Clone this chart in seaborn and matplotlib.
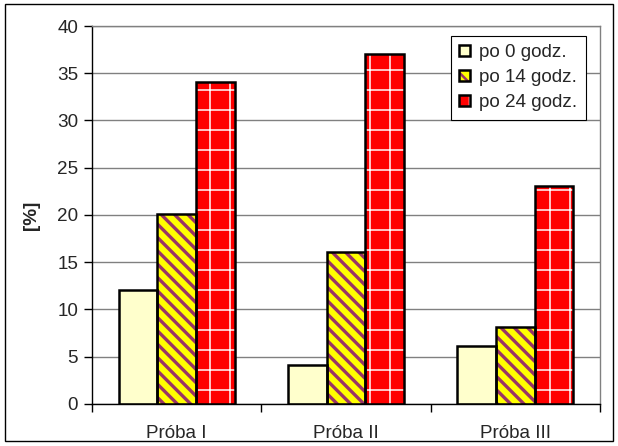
import pandas as pd
import matplotlib
matplotlib.use("Agg")
import matplotlib.pyplot as plt
import seaborn as sns
from matplotlib.patches import Patch, Rectangle

# data
samples = ['Próba I', 'Próba II', 'Próba III']
series = ['po 0 godz.', 'po 14 godz.', 'po 24 godz.']
values_0h = [12.1, 4.1, 6.1]
values_14h = [20.1, 16.1, 8.1]
values_24h = [34.1, 37.0, 23.1]

face_colors = ['#FFFFCC', '#FFFF00', '#FF0000']
hatch_colors = ['#FFFFCC', '#993366', '#FFFFFF']
hatches = [None, '\\\\\\', '+']
hatch_widths = [1.0, 2.0, 0.9]

# dpi 120 makes the hatch pattern spacing closer to the reference
DPI = 120
s = 100 / DPI  # scale for point sizes

df = pd.DataFrame({
    'sample': samples * 3,
    'series': [x for x in series for _ in samples],
    'value': values_0h + values_14h + values_24h,
})

sns.set_style("white")
plt.rcParams['font.family'] = ['Liberation Sans', 'DejaVu Sans']
plt.rcParams['hatch.linewidth'] = 1.5

fig = plt.figure(figsize=(618 / DPI, 446 / DPI), dpi=DPI)
ax = fig.add_axes([0.1489, 0.0942, 0.8221, 0.8475])

sns.barplot(data=df, x='sample', y='value', hue='series', order=samples,
            hue_order=series, palette=face_colors, width=0.684, gap=0,
            legend=False, ax=ax, saturation=1)


def set_hlw(p, w):
    if hasattr(p, 'set_hatch_linewidth'):
        p.set_hatch_linewidth(w)
    else:
        p._hatch_linewidth = w


# hatching: hatch drawn via edgecolor, then a black outline on top
for cont, hc, h, hw in zip(ax.containers, hatch_colors, hatches, hatch_widths):
    for p in cont.patches:
        p.set_edgecolor(hc)
        p.set_linewidth(0)
        if h:
            p.set_hatch(h)
            set_hlw(p, hw)
        ax.add_patch(Rectangle(p.get_xy(), p.get_width(), p.get_height(),
                               fill=False, ec='black', lw=1.8 * s, zorder=3))

fs = 13.6 * s
ax.set_ylim(0, 40)
ax.set_xlim(-0.5, 2.5)
ax.set_yticks(range(0, 41, 5))
ax.yaxis.grid(True, color='#808080', lw=1 * s)
ax.set_axisbelow(True)
ax.set_xlabel('')
ax.set_ylabel('[%]', fontsize=fs, fontweight='bold', labelpad=12 * s)
ax.tick_params(axis='y', direction='out', length=6 * s, width=1 * s,
               color='black', labelsize=fs, pad=4 * s, left=True)
ax.set_xticks([-0.5, 0.5, 1.5, 2.5], minor=True)
ax.tick_params(axis='x', which='minor', direction='out', length=6 * s,
               width=1 * s, color='black', bottom=True)
ax.tick_params(axis='x', which='major', length=0, labelsize=fs, pad=15 * s)

for side in ['left', 'bottom']:
    ax.spines[side].set_color('black')
    ax.spines[side].set_linewidth(1 * s)
for side in ['top', 'right']:
    ax.spines[side].set_color('#808080')
    ax.spines[side].set_linewidth(1 * s)

handles = []
for fc, hc, h, hw in zip(face_colors, hatch_colors, hatches, hatch_widths):
    hp = Patch(facecolor=fc, edgecolor=hc, hatch=h, lw=0)
    set_hlw(hp, hw)
    handles.append((hp, Patch(facecolor='none', edgecolor='black', lw=1.8 * s)))
leg = ax.legend(handles, series, loc='upper right',
                bbox_to_anchor=(0.972, 0.974), borderaxespad=0,
                fontsize=fs, handlelength=0.55, handleheight=0.55,
                handletextpad=0.5, labelspacing=0.42, fancybox=False,
                framealpha=1, edgecolor='black', borderpad=0.45)
leg.get_frame().set_linewidth(0.8 * s)

# outer frame of the chart
fig.patches.append(Rectangle((0.008, 0.012), 0.984, 0.978, fill=False,
                             ec='black', lw=1 * s, transform=fig.transFigure))

fig.savefig('out.png', dpi=DPI)
